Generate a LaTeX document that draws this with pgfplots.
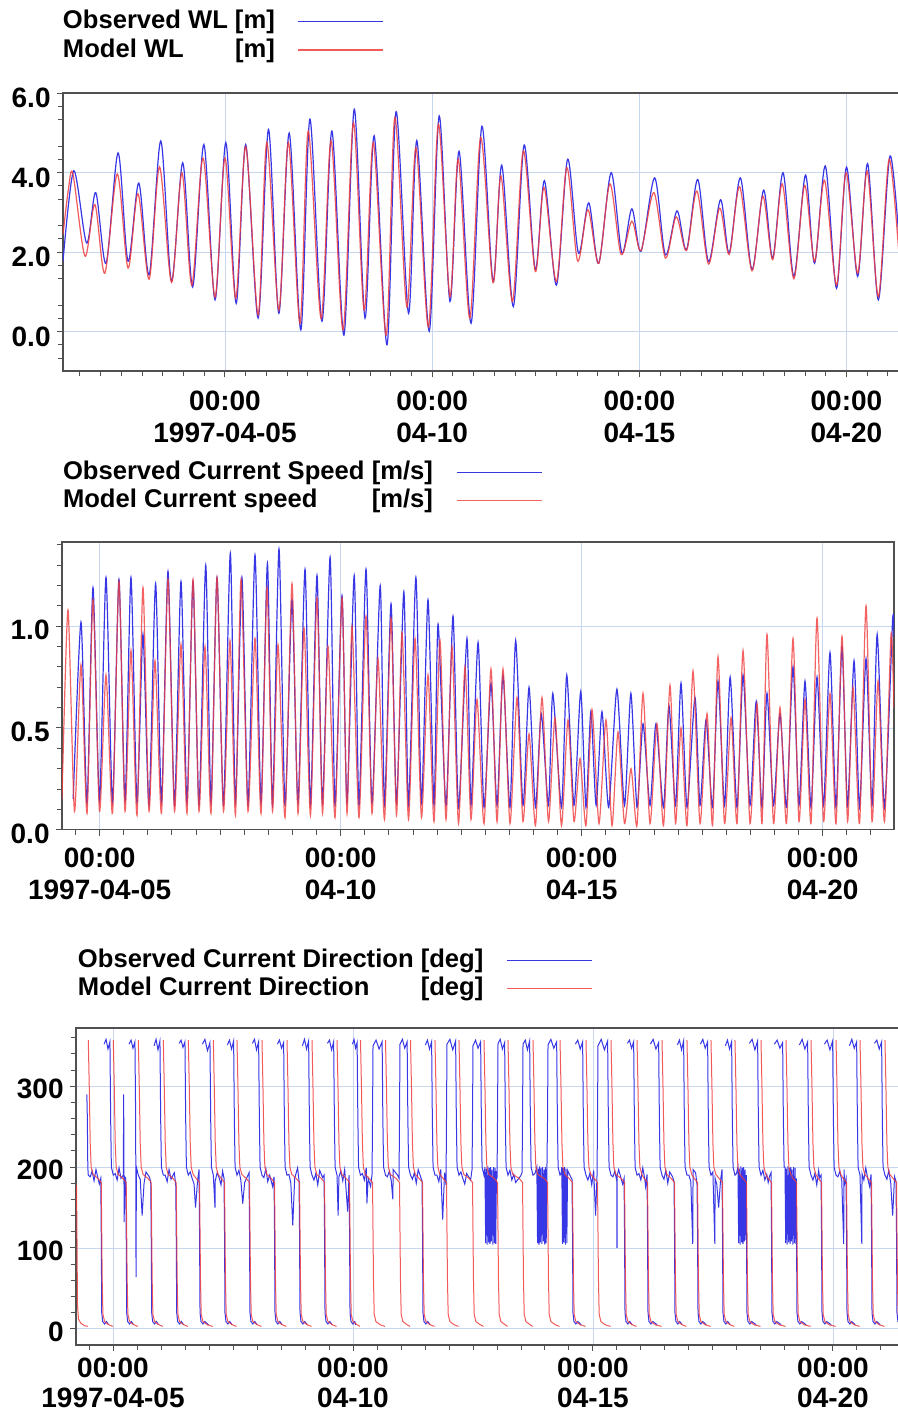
\documentclass[border=0pt]{standalone}
\usepackage{fontspec}
\setmainfont{Liberation Sans}
\usepackage{pgfplots}
\pgfplotsset{compat=1.18}
\definecolor{obsblue}{RGB}{55,55,230}
\definecolor{modred}{RGB}{240,60,60}
\definecolor{gridc}{RGB}{200,215,240}
\definecolor{framec}{RGB}{80,80,80}
\pgfplotsset{legend image code/.code={\draw[#1] (0pt,0pt) -- (42.5pt,0pt);}}
\pgfplotsset{
  mystyle/.style={
    scale only axis,
    anchor=south west,
    axis line style={framec, line width=0.8pt},
    tick style={framec, line width=0.5pt},
    tick align=outside,
    tick pos=left,
    major tick length=3pt,
    minor tick length=2.5pt,
    grid=major,
    major grid style={gridc, line width=0.4pt},
    ticklabel style={font=\fontsize{14}{16}\selectfont\bfseries},
    yticklabel style={inner sep=3pt},
    xticklabel style={align=center},
    xtick={5,10,15,20},
    xticklabels={{00:00\\1997-04-05},{00:00\\04-10},{00:00\\04-15},{00:00\\04-20}},
    legend plot pos=right,
    legend cell align=left,
    legend style={draw=none, fill=none, inner sep=0pt, outer sep=0pt,
      font=\fontsize{12.8}{14}\selectfont\bfseries, row sep=1.25pt, column sep=11.5pt,
      nodes={inner sep=0pt, text height=10pt, text depth=3pt}, anchor=north west},
  }
}
\begin{document}
\begin{tikzpicture}
\path[use as bounding box] (0,0) rectangle (449pt,707pt);
% ---------------- Panel 1: water level ----------------
\begin{axis}[mystyle, at={(31.5pt,521.35pt)}, width=418.5pt, height=139pt,
  xmin=1.09, xmax=21.292, ymin=-1.0, ymax=6.0,
  ytick={0,2,4,6}, yticklabels={0.0,2.0,4.0,6.0},
  xticklabel style={yshift=-3.5pt}, yticklabel style={yshift=-2.5pt},
  minor ytick={-0.6667,-0.3333,0.3333,0.6667,1.3333,1.6667,2.3333,2.6667,3.3333,3.6667,4.3333,4.6667,5.3333,5.6667},
  minor xtick={1.5,2,...,21},
  legend style={at={(0,1.3047)}}]
\addplot[obsblue, line width=0.6pt, smooth] coordinates {
(1.09,1.77)(1.35,4.05)(1.66,2.23)(1.88,3.50)(2.13,1.72)(2.42,4.50)(2.66,1.77)(2.92,3.74)(3.17,1.43)(3.45,4.80)(3.71,1.27)(3.98,4.25)(4.22,1.12)(4.49,4.71)(4.76,0.80)(5.02,4.76)(5.27,0.71)(5.50,4.71)(5.80,0.34)(6.05,5.09)(6.30,0.46)(6.55,5.00)(6.83,0.04)(7.05,5.35)(7.34,0.26)(7.58,5.05)(7.87,-0.09)(8.12,5.60)(8.38,0.34)(8.60,4.93)(8.91,-0.33)(9.13,5.54)(9.43,0.46)(9.63,4.81)(9.93,0.01)(10.17,5.43)(10.43,0.76)(10.65,4.54)(10.94,0.21)(11.20,5.17)(11.47,1.26)(11.68,4.19)(11.96,0.63)(12.22,4.70)(12.49,1.56)(12.71,3.80)(13.00,1.17)(13.27,4.34)(13.53,1.98)(13.78,3.24)(14.02,1.72)(14.32,4.00)(14.58,1.98)(14.82,3.09)(15.04,2.02)(15.37,3.87)(15.63,1.93)(15.91,3.04)(16.14,2.06)(16.41,3.83)(16.67,1.76)(16.96,3.32)(17.17,1.98)(17.44,3.87)(17.72,1.56)(18.00,3.56)(18.22,1.85)(18.47,4.00)(18.73,1.39)(19.01,3.94)(19.23,1.72)(19.49,4.17)(19.76,1.09)(20.00,4.14)(20.27,1.39)(20.51,4.23)(20.77,0.80)(21.05,4.42)(21.29,2.0)};
\addlegendentry{\makebox[86pt][l]{Observed WL}[m]}
\addplot[modred, line width=0.6pt, opacity=0.85, smooth] coordinates {
(1.09,2.44)(1.22,3.58)(1.33,3.97)(1.62,1.90)(1.86,3.20)(2.10,1.47)(2.40,3.97)(2.66,1.60)(2.90,3.47)(3.17,1.32)(3.42,4.15)(3.71,1.24)(3.96,4.00)(4.20,1.17)(4.47,4.37)(4.76,0.87)(5.00,4.37)(5.26,0.84)(5.50,4.66)(5.80,0.42)(6.01,4.76)(6.30,0.54)(6.53,4.76)(6.81,0.21)(7.01,5.05)(7.32,0.33)(7.56,4.81)(7.85,0.04)(8.10,5.26)(8.36,0.54)(8.58,4.76)(8.89,-0.09)(9.10,5.39)(9.39,0.62)(9.61,4.63)(9.91,0.12)(10.15,5.22)(10.43,0.88)(10.63,4.34)(10.91,0.34)(11.17,4.89)(11.47,1.23)(11.66,3.92)(11.94,0.76)(12.20,4.55)(12.49,1.51)(12.70,3.63)(13.00,1.26)(13.25,4.13)(13.51,1.78)(13.76,3.07)(14.02,1.72)(14.29,3.72)(14.56,1.94)(14.82,2.78)(15.04,2.04)(15.35,3.50)(15.63,1.85)(15.89,2.89)(16.14,2.04)(16.39,3.54)(16.67,1.70)(16.94,3.11)(17.17,1.94)(17.42,3.65)(17.72,1.53)(17.98,3.41)(18.22,1.81)(18.45,3.72)(18.73,1.33)(18.99,3.68)(19.23,1.77)(19.47,3.81)(19.76,1.17)(19.99,4.00)(20.27,1.47)(20.50,4.04)(20.77,0.88)(21.03,4.34)(21.29,1.60)};
\addlegendentry{\makebox[86pt][l]{Model WL}[m]}
\end{axis}
% ---------------- Panel 2: current speed ----------------
\begin{axis}[mystyle, at={(31pt,292.15pt)}, width=416pt, height=143.85pt,
  xmin=4.218, xmax=21.479, ymin=0, ymax=1.414,
  ytick={0,0.5,1}, yticklabels={0.0,0.5,1.0},
  xticklabel style={yshift=-2.5pt}, yticklabel style={yshift=-2pt},
  minor ytick={0.1,0.2,0.3,0.4,0.6,0.7,0.8,0.9,1.1,1.2,1.3,1.4},
  minor xtick={4.5,5,...,21.5},
  legend style={at={(0.0012,1.2878)}}]
\addplot[obsblue, line width=0.6pt, smooth, tension=0.4] coordinates {
(4.450,0.15)(4.612,1.02)(4.737,0.13)(4.861,1.19)(4.996,0.14)(5.131,1.24)(5.266,0.13)(5.400,1.23)(5.525,0.14)(5.649,1.24)(5.774,0.13)(5.898,0.96)(6.023,0.12)(6.160,1.21)(6.282,0.13)(6.417,1.27)(6.552,0.12)(6.687,1.22)(6.811,0.13)(6.936,1.22)(7.060,0.12)(7.200,1.30)(7.309,0.13)(7.434,1.24)(7.568,0.12)(7.710,1.36)(7.817,0.13)(7.950,1.24)(8.077,0.12)(8.222,1.35)(8.347,0.13)(8.480,1.31)(8.585,0.12)(8.720,1.38)(8.845,0.12)(8.990,1.13)(9.114,0.13)(9.260,1.28)(9.373,0.12)(9.508,1.25)(9.622,0.13)(9.780,1.34)(9.882,0.12)(10.027,1.15)(10.131,0.13)(10.280,1.25)(10.380,0.12)(10.525,1.28)(10.649,0.13)(10.820,1.20)(10.909,0.12)(11.044,1.11)(11.158,0.13)(11.310,1.17)(11.407,0.12)(11.560,1.24)(11.676,0.13)(11.811,1.13)(11.936,0.12)(12.020,1.01)(12.185,0.12)(12.330,1.05)(12.444,0.11)(12.620,0.94)(12.703,0.12)(12.850,0.92)(12.973,0.11)(13.118,0.72)(13.243,0.12)(13.367,0.76)(13.512,0.11)(13.630,0.93)(13.782,0.12)(13.907,0.70)(14.041,0.11)(14.160,0.57)(14.311,0.12)(14.400,0.67)(14.581,0.11)(14.690,0.76)(14.840,0.12)(14.980,0.68)(15.089,0.11)(15.190,0.58)(15.300,0.12)(15.420,0.58)(15.560,0.11)(15.730,0.69)(15.888,0.12)(16.020,0.67)(16.147,0.11)(16.272,0.52)(16.417,0.12)(16.540,0.52)(16.697,0.11)(16.810,0.61)(16.946,0.12)(17.060,0.72)(17.185,0.11)(17.350,0.65)(17.454,0.12)(17.580,0.54)(17.714,0.11)(17.828,0.73)(17.963,0.12)(18.080,0.75)(18.222,0.11)(18.347,0.76)(18.492,0.12)(18.620,0.63)(18.741,0.11)(18.844,0.67)(18.979,0.12)(19.114,0.57)(19.249,0.11)(19.384,0.80)(19.508,0.12)(19.633,0.73)(19.757,0.11)(19.882,0.75)(20.017,0.12)(20.151,0.87)(20.276,0.11)(20.400,0.90)(20.515,0.12)(20.650,0.83)(20.764,0.11)(20.899,0.84)(21.023,0.12)(21.130,0.96)(21.282,0.11)(21.450,1.03)(21.479,0.95)};
\addlegendentry{\makebox[154.4pt][l]{Observed Current Speed}[m/s]}
\addplot[modred, line width=0.6pt, opacity=0.8, smooth, tension=0.4] coordinates {
(4.218,0.15)(4.342,1.08)(4.477,0.09)(4.612,0.81)(4.737,0.08)(4.861,1.13)(4.996,0.09)(5.131,0.76)(5.266,0.08)(5.400,1.22)(5.525,0.09)(5.649,0.88)(5.774,0.07)(5.898,1.19)(6.023,0.09)(6.147,0.83)(6.282,0.08)(6.417,1.23)(6.552,0.09)(6.687,0.91)(6.811,0.08)(6.936,1.23)(7.060,0.09)(7.185,0.90)(7.309,0.08)(7.434,1.24)(7.568,0.09)(7.703,0.93)(7.817,0.07)(7.932,1.23)(8.077,0.09)(8.222,0.94)(8.347,0.08)(8.471,1.19)(8.585,0.09)(8.699,0.91)(8.845,0.06)(8.990,1.21)(9.114,0.08)(9.239,0.99)(9.373,0.07)(9.508,1.14)(9.622,0.08)(9.737,0.90)(9.882,0.06)(10.027,1.14)(10.131,0.08)(10.234,1.00)(10.380,0.06)(10.525,1.05)(10.649,0.08)(10.774,0.84)(10.909,0.05)(11.044,1.04)(11.158,0.07)(11.272,0.97)(11.407,0.05)(11.542,0.94)(11.676,0.06)(11.811,0.76)(11.936,0.04)(12.060,0.93)(12.185,0.05)(12.309,0.90)(12.444,0.03)(12.579,0.80)(12.703,0.05)(12.828,0.64)(12.973,0.03)(13.118,0.79)(13.243,0.04)(13.367,0.79)(13.512,0.03)(13.658,0.65)(13.782,0.04)(13.907,0.47)(14.041,0.02)(14.176,0.65)(14.311,0.04)(14.446,0.55)(14.581,0.02)(14.716,0.54)(14.840,0.04)(14.965,0.35)(15.089,0.02)(15.214,0.59)(15.359,0.03)(15.504,0.54)(15.629,0.02)(15.753,0.48)(15.888,0.03)(16.023,0.30)(16.147,0.02)(16.272,0.67)(16.417,0.03)(16.562,0.52)(16.697,0.02)(16.832,0.71)(16.946,0.03)(17.060,0.50)(17.185,0.02)(17.309,0.78)(17.454,0.03)(17.600,0.57)(17.714,0.02)(17.828,0.85)(17.963,0.03)(18.098,0.55)(18.222,0.03)(18.347,0.88)(18.492,0.03)(18.637,0.62)(18.741,0.03)(18.844,0.96)(18.979,0.03)(19.114,0.60)(19.249,0.03)(19.384,0.94)(19.508,0.04)(19.633,0.64)(19.757,0.03)(19.882,1.04)(20.017,0.04)(20.151,0.67)(20.276,0.03)(20.400,0.95)(20.515,0.04)(20.629,0.70)(20.764,0.03)(20.899,1.10)(21.023,0.04)(21.148,0.73)(21.282,0.04)(21.417,0.96)(21.479,0.60)};
\addlegendentry{\makebox[154.4pt][l]{Model Current speed}[m/s]}
\end{axis}
% ---------------- Panel 3: current direction ----------------
\begin{axis}[mystyle, at={(38pt,34.5pt)}, width=412pt, height=158.5pt,
  xmin=4.229, xmax=21.396, ymin=-20, ymax=372,
  ytick={0,100,200,300}, yticklabels={0,100,200,300},
  xticklabel style={font=\fontsize{14}{15}\selectfont\bfseries}, yticklabel style={yshift=-1.5pt},
  minor ytick={20,40,60,80,120,140,160,180,220,240,260,280,320,340,360},
  minor xtick={4.5,5,...,21},
  unbounded coords=jump,
  legend style={at={(0.0024,1.2549)}}]
\addplot[obsblue, line width=0.5pt] coordinates {
(4.455,290)(4.465,262)(4.475,200)(4.485,190)(4.525,188)(4.565,195)(4.605,183)(4.645,197)(4.715,179)(4.745,186)(4.755,120)(4.765,20)(4.785,9)(4.825,6)(4.865,9)(4.906,5)(4.91,nan)
(4.815,352)(4.855,358)(4.895,346)(4.936,355)(4.951,260)(4.966,200)(5.006,190)(5.046,192)(5.086,184)(5.126,199)(5.166,186)(5.215,190)(5.222,290)(5.232,132)(5.245,188)(5.265,186)(5.275,120)(5.285,20)(5.305,9)(5.345,6)(5.385,9)(5.427,5)(5.43,nan)
(5.335,352)(5.376,357)(5.416,347)(5.457,355)(5.472,260)(5.480,64)(5.487,200)(5.527,190)(5.567,185)(5.607,140)(5.647,180)(5.687,194)(5.756,188)(5.786,182)(5.796,120)(5.806,20)(5.826,9)(5.866,6)(5.906,9)(5.948,5)(5.95,nan)
(5.856,350)(5.897,358)(5.937,345)(5.978,356)(5.993,260)(6.008,200)(6.048,190)(6.088,190)(6.128,182)(6.168,197)(6.208,185)(6.277,193)(6.307,178)(6.317,120)(6.327,20)(6.347,9)(6.387,6)(6.427,9)(6.469,5)(6.47,nan)
(6.377,353)(6.418,357)(6.458,348)(6.499,355)(6.514,260)(6.529,200)(6.569,190)(6.609,194)(6.649,186)(6.689,179)(6.719,150)(6.763,184)(6.793,197)(6.803,120)(6.813,20)(6.833,9)(6.873,6)(6.913,9)(6.990,5)(6.995,nan)
(6.863,352)(6.915,358)(6.968,344)(7.020,354)(7.035,260)(7.050,200)(7.090,190)(7.125,150)(7.130,183)(7.170,193)(7.210,187)(7.250,178)(7.283,195)(7.313,186)(7.323,120)(7.333,20)(7.353,9)(7.393,6)(7.433,9)(7.483,5)(7.49,nan)
(7.383,351)(7.426,357)(7.470,346)(7.513,356)(7.528,260)(7.543,200)(7.583,190)(7.623,196)(7.663,184)(7.703,155)(7.743,181)(7.804,189)(7.834,193)(7.844,120)(7.854,20)(7.874,9)(7.914,6)(7.954,9)(8.004,5)(8.01,nan)
(7.904,353)(7.947,358)(7.991,345)(8.034,355)(8.049,260)(8.064,200)(8.104,190)(8.144,187)(8.184,198)(8.224,182)(8.264,190)(8.325,176)(8.355,188)(8.365,120)(8.375,20)(8.395,9)(8.435,6)(8.475,9)(8.525,5)(8.53,nan)
(8.425,352)(8.468,357)(8.512,347)(8.555,354)(8.570,260)(8.585,200)(8.625,190)(8.665,191)(8.705,180)(8.745,128)(8.785,186)(8.846,199)(8.876,183)(8.886,120)(8.896,20)(8.916,9)(8.956,6)(8.996,9)(9.046,5)(9.05,nan)
(8.946,350)(8.989,358)(9.033,346)(9.076,356)(9.091,260)(9.106,200)(9.146,190)(9.186,184)(9.226,192)(9.266,178)(9.306,196)(9.367,187)(9.397,190)(9.407,120)(9.417,20)(9.437,9)(9.477,6)(9.517,9)(9.567,5)(9.57,nan)
(9.467,353)(9.510,357)(9.554,345)(9.597,355)(9.612,260)(9.627,200)(9.667,190)(9.690,140)(9.707,188)(9.747,195)(9.787,183)(9.827,197)(9.888,145)(9.918,190)(9.928,120)(9.938,20)(9.958,9)(9.998,6)(10.038,9)(10.056,5)(10.06,nan)
(9.988,352)(10.021,358)(10.053,347)(10.086,354)(10.101,260)(10.116,200)(10.156,190)(10.196,192)(10.236,184)(10.276,199)(10.290,155)(10.316,186)(10.367,176)(10.397,191)(10.407,260)
(10.417,350)(10.480,357)(10.544,346)(10.607,355)(10.622,260)(10.637,200)(10.677,190)(10.717,188)(10.757,195)(10.797,183)(10.830,160)(10.837,197)(10.929,190)(10.959,186)(10.969,260)
(10.979,352)(11.029,358)(11.078,347)(11.128,355)(11.143,260)(11.158,200)(11.198,190)(11.238,185)(11.278,193)(11.318,180)(11.358,197)(11.408,188)(11.438,183)(11.448,120)(11.458,20)(11.478,9)(11.518,6)(11.558,9)(11.608,5)(11.61,nan)
(11.508,351)(11.551,357)(11.595,346)(11.638,355)(11.653,260)(11.668,200)(11.708,190)(11.748,190)(11.788,182)(11.828,197)(11.868,135)(11.908,193)(11.938,178)(11.948,260)
(11.958,352)(12.018,358)(12.078,345)(12.138,356)(12.153,260)(12.168,200)(12.208,190)(12.248,194)(12.288,186)(12.328,179)(12.368,192)(12.450,184)(12.480,197)(12.490,260)
(12.500,350)(12.553,357)(12.606,347)(12.659,355)(12.674,260)(12.689,200)(12.729,190)(12.749,200)(12.764,106)(12.779,198)(12.794,104)(12.809,201)(12.824,107)(12.839,199)(12.854,105)(12.869,200)(12.884,108)(12.899,197)(12.914,104)(12.929,200)(12.944,106)(12.959,199)(12.974,105)(12.989,195)(13.001,186)(13.011,260)
(13.021,353)(13.067,358)(13.113,346)(13.159,354)(13.174,260)(13.189,200)(13.229,190)(13.269,196)(13.309,184)(13.349,191)(13.389,181)(13.492,189)(13.522,193)(13.532,260)
(13.542,352)(13.588,357)(13.634,345)(13.680,356)(13.695,260)(13.710,200)(13.750,190)(13.790,192)(13.830,200)(13.845,106)(13.860,198)(13.875,104)(13.890,201)(13.905,107)(13.920,199)(13.935,105)(13.950,200)(13.965,108)(13.980,197)(13.995,104)(14.010,200)(14.025,106)(14.040,196)(14.053,260)
(14.063,351)(14.123,358)(14.183,347)(14.243,355)(14.258,260)(14.273,200)(14.313,190)(14.335,192)(14.350,200)(14.365,105)(14.380,199)(14.395,107)(14.410,200)(14.425,104)(14.440,198)(14.455,106)(14.470,196)(14.533,188)(14.563,185)(14.573,120)(14.583,20)(14.603,9)(14.643,6)(14.683,9)(14.754,5)(14.76,nan)
(14.633,352)(14.683,357)(14.734,346)(14.784,355)(14.799,260)(14.814,200)(14.854,190)(14.894,184)(14.934,192)(14.974,178)(15.014,196)(15.054,140)(15.084,190)(15.094,260)
(15.104,350)(15.171,358)(15.238,345)(15.305,356)(15.320,260)(15.335,200)(15.375,190)(15.415,188)(15.455,195)(15.495,183)(15.500,100)(15.505,190)(15.535,197)(15.617,179)(15.647,186)(15.657,120)(15.667,20)(15.687,9)(15.727,6)(15.767,9)(15.817,5)(15.82,nan)
(15.717,353)(15.760,357)(15.804,347)(15.847,355)(15.862,260)(15.877,200)(15.917,190)(15.957,192)(15.997,184)(16.037,199)(16.077,186)(16.096,176)(16.126,191)(16.136,120)(16.146,20)(16.166,9)(16.206,6)(16.246,9)(16.338,5)(16.34,nan)
(16.196,352)(16.253,358)(16.311,346)(16.368,354)(16.383,260)(16.398,200)(16.438,190)(16.478,185)(16.518,196)(16.558,180)(16.598,194)(16.658,188)(16.688,182)(16.698,120)(16.708,20)(16.728,9)(16.768,6)(16.808,9)(16.858,5)(16.86,nan)
(16.758,351)(16.801,357)(16.845,345)(16.888,356)(16.903,260)(16.918,200)(16.958,190)(16.998,190)(17.038,182)(17.078,105)(17.085,197)(17.138,193)(17.168,178)(17.178,120)(17.188,20)(17.208,9)(17.248,6)(17.288,9)(17.358,5)(17.36,nan)
(17.238,352)(17.288,358)(17.338,347)(17.388,355)(17.403,260)(17.418,200)(17.458,190)(17.498,194)(17.538,105)(17.545,186)(17.578,179)(17.618,150)(17.658,184)(17.688,197)(17.698,120)(17.708,20)(17.728,9)(17.768,6)(17.808,9)(17.858,5)(17.86,nan)
(17.758,350)(17.801,357)(17.845,346)(17.888,355)(17.903,260)(17.918,200)(17.958,190)(17.990,192)(18.020,200)(18.035,106)(18.050,198)(18.065,104)(18.080,201)(18.095,107)(18.110,199)(18.125,105)(18.140,200)(18.155,108)(18.170,197)(18.185,110)(18.195,190)(18.198,120)(18.208,20)(18.228,9)(18.268,6)(18.308,9)(18.400,5)(18.40,nan)
(18.258,353)(18.315,358)(18.373,345)(18.430,356)(18.445,260)(18.460,200)(18.500,190)(18.540,196)(18.580,184)(18.620,191)(18.650,181)(18.679,189)(18.709,193)(18.719,120)(18.729,20)(18.749,9)(18.789,6)(18.829,9)(18.921,5)(18.925,nan)
(18.779,352)(18.836,357)(18.894,347)(18.951,354)(18.966,260)(18.981,200)(19.000,200)(19.015,106)(19.030,198)(19.045,104)(19.060,201)(19.075,107)(19.090,199)(19.105,105)(19.120,200)(19.135,108)(19.150,197)(19.165,104)(19.180,200)(19.195,106)(19.210,199)(19.225,105)(19.235,186)(19.240,120)(19.250,20)(19.270,9)(19.310,6)(19.350,9)(19.442,5)(19.445,nan)
(19.300,351)(19.357,358)(19.415,346)(19.472,355)(19.487,260)(19.502,200)(19.542,190)(19.582,184)(19.622,192)(19.662,178)(19.702,196)(19.721,187)(19.751,190)(19.761,120)(19.771,20)(19.791,9)(19.831,6)(19.871,9)(19.963,5)(19.965,nan)
(19.821,352)(19.878,357)(19.936,345)(19.993,356)(20.008,260)(20.023,200)(20.063,190)(20.103,188)(20.143,195)(20.183,183)(20.223,105)(20.230,197)(20.242,179)(20.272,186)(20.282,120)(20.292,20)(20.312,9)(20.352,6)(20.392,9)(20.463,5)(20.465,nan)
(20.342,350)(20.392,358)(20.443,347)(20.493,355)(20.508,260)(20.523,200)(20.563,190)(20.600,105)(20.605,192)(20.643,184)(20.683,199)(20.723,186)(20.763,176)(20.793,191)(20.803,120)(20.813,20)(20.833,9)(20.873,6)(20.913,9)(20.983,5)(20.985,nan)
(20.863,353)(20.913,357)(20.963,346)(21.013,355)(21.028,260)(21.043,200)(21.083,190)(21.123,185)(21.163,196)(21.203,180)(21.243,140)(21.283,188)(21.313,182)(21.323,120)(21.333,20)(21.353,9)(21.393,6)(21.45,8)(21.45,nan)
(21.383,352)(21.45,356)};
\addlegendentry{\makebox[171.4pt][l]{Observed Current Direction}[deg]}
\addplot[modred, line width=0.5pt, opacity=0.85] coordinates {
(4.229,178)(4.240,176)(4.250,110)(4.260,30)(4.280,12)(4.330,7)(4.400,4)(4.475,3)(4.48,nan)
(4.485,357)(4.505,300)(4.525,230)(4.545,200)(4.585,191)(4.685,186)(4.755,181)(4.775,60)(4.790,18)(4.825,9)(4.915,5)(4.996,3)(5.0,nan)
(5.006,357)(5.026,300)(5.046,230)(5.066,200)(5.106,191)(5.205,186)(5.275,181)(5.295,60)(5.310,18)(5.345,9)(5.435,5)(5.517,3)(5.52,nan)
(5.527,357)(5.547,300)(5.567,230)(5.587,200)(5.627,191)(5.726,186)(5.796,181)(5.816,60)(5.831,18)(5.866,9)(5.956,5)(6.038,3)(6.04,nan)
(6.048,357)(6.068,300)(6.088,230)(6.108,200)(6.148,191)(6.247,186)(6.317,181)(6.337,60)(6.352,18)(6.387,9)(6.477,5)(6.559,3)(6.56,nan)
(6.569,357)(6.589,300)(6.609,230)(6.629,200)(6.669,191)(6.733,186)(6.803,181)(6.823,60)(6.838,18)(6.873,9)(6.963,5)(7.080,3)(7.085,nan)
(7.090,357)(7.110,300)(7.130,230)(7.150,200)(7.190,191)(7.253,186)(7.323,181)(7.343,60)(7.358,18)(7.393,9)(7.483,5)(7.573,3)(7.578,nan)
(7.583,357)(7.603,300)(7.623,230)(7.643,200)(7.683,191)(7.774,186)(7.844,181)(7.864,60)(7.879,18)(7.914,9)(8.004,5)(8.094,3)(8.1,nan)
(8.104,357)(8.124,300)(8.144,230)(8.164,200)(8.204,191)(8.295,186)(8.365,181)(8.385,60)(8.400,18)(8.435,9)(8.525,5)(8.615,3)(8.62,nan)
(8.625,357)(8.645,300)(8.665,230)(8.685,200)(8.725,191)(8.816,186)(8.886,181)(8.906,60)(8.921,18)(8.956,9)(9.046,5)(9.136,3)(9.14,nan)
(9.146,357)(9.166,300)(9.186,230)(9.206,200)(9.246,191)(9.337,186)(9.407,181)(9.427,60)(9.442,18)(9.477,9)(9.567,5)(9.657,3)(9.66,nan)
(9.667,357)(9.687,300)(9.707,230)(9.727,200)(9.767,191)(9.858,186)(9.928,181)(9.948,60)(9.963,18)(9.998,9)(10.088,5)(10.146,3)(10.15,nan)
(10.156,357)(10.176,300)(10.196,230)(10.216,200)(10.256,191)(10.337,186)(10.407,181)(10.427,60)(10.442,18)(10.477,9)(10.567,5)(10.667,3)(10.67,nan)
(10.677,357)(10.697,300)(10.717,230)(10.737,200)(10.777,191)(10.899,186)(10.969,181)(10.989,60)(11.004,18)(11.039,9)(11.129,5)(11.188,3)(11.19,nan)
(11.198,357)(11.218,300)(11.238,230)(11.258,200)(11.298,191)(11.378,186)(11.448,181)(11.468,60)(11.483,18)(11.518,9)(11.608,5)(11.698,3)(11.70,nan)
(11.708,357)(11.728,300)(11.748,230)(11.768,200)(11.808,191)(11.878,186)(11.948,181)(11.968,60)(11.983,18)(12.018,9)(12.108,5)(12.198,3)(12.20,nan)
(12.208,357)(12.228,300)(12.248,230)(12.268,200)(12.308,191)(12.420,186)(12.490,181)(12.510,60)(12.525,18)(12.560,9)(12.650,5)(12.719,3)(12.72,nan)
(12.729,357)(12.749,300)(12.769,230)(12.789,200)(12.829,191)(12.941,186)(13.011,181)(13.031,60)(13.046,18)(13.081,9)(13.171,5)(13.219,3)(13.22,nan)
(13.229,357)(13.249,300)(13.269,230)(13.289,200)(13.329,191)(13.462,186)(13.532,181)(13.552,60)(13.567,18)(13.602,9)(13.692,5)(13.740,3)(13.745,nan)
(13.750,357)(13.770,300)(13.790,230)(13.810,200)(13.850,191)(13.983,186)(14.053,181)(14.073,60)(14.088,18)(14.123,9)(14.213,5)(14.303,3)(14.31,nan)
(14.313,357)(14.333,300)(14.353,230)(14.373,200)(14.413,191)(14.503,186)(14.573,181)(14.593,60)(14.608,18)(14.643,9)(14.733,5)(14.844,3)(14.85,nan)
(14.854,357)(14.874,300)(14.894,230)(14.914,200)(14.954,191)(15.024,186)(15.094,181)(15.114,60)(15.129,18)(15.164,9)(15.254,5)(15.365,3)(15.37,nan)
(15.375,357)(15.395,300)(15.415,230)(15.435,200)(15.475,191)(15.587,186)(15.657,181)(15.677,60)(15.692,18)(15.727,9)(15.817,5)(15.907,3)(15.91,nan)
(15.917,357)(15.937,300)(15.957,230)(15.977,200)(16.017,191)(16.066,186)(16.136,181)(16.156,60)(16.171,18)(16.206,9)(16.296,5)(16.428,3)(16.43,nan)
(16.438,357)(16.458,300)(16.478,230)(16.498,200)(16.538,191)(16.628,186)(16.698,181)(16.718,60)(16.733,18)(16.768,9)(16.858,5)(16.948,3)(16.95,nan)
(16.958,357)(16.978,300)(16.998,230)(17.018,200)(17.058,191)(17.108,186)(17.178,181)(17.198,60)(17.213,18)(17.248,9)(17.338,5)(17.448,3)(17.45,nan)
(17.458,357)(17.478,300)(17.498,230)(17.518,200)(17.558,191)(17.628,186)(17.698,181)(17.718,60)(17.733,18)(17.768,9)(17.858,5)(17.948,3)(17.95,nan)
(17.958,357)(17.978,300)(17.998,230)(18.018,200)(18.058,191)(18.128,186)(18.198,181)(18.218,60)(18.233,18)(18.268,9)(18.358,5)(18.490,3)(18.495,nan)
(18.500,357)(18.520,300)(18.540,230)(18.560,200)(18.600,191)(18.649,186)(18.719,181)(18.739,60)(18.754,18)(18.789,9)(18.879,5)(19.011,3)(19.015,nan)
(19.021,357)(19.041,300)(19.061,230)(19.081,200)(19.121,191)(19.170,186)(19.240,181)(19.260,60)(19.275,18)(19.310,9)(19.400,5)(19.532,3)(19.535,nan)
(19.542,357)(19.562,300)(19.582,230)(19.602,200)(19.642,191)(19.691,186)(19.761,181)(19.781,60)(19.796,18)(19.831,9)(19.921,5)(20.053,3)(20.055,nan)
(20.063,357)(20.083,300)(20.103,230)(20.123,200)(20.163,191)(20.212,186)(20.282,181)(20.302,60)(20.317,18)(20.352,9)(20.442,5)(20.553,3)(20.555,nan)
(20.563,357)(20.583,300)(20.603,230)(20.623,200)(20.663,191)(20.733,186)(20.803,181)(20.823,60)(20.838,18)(20.873,9)(20.963,5)(21.073,3)(21.075,nan)
(21.083,357)(21.103,300)(21.123,230)(21.143,200)(21.183,191)(21.253,186)(21.323,181)(21.343,60)(21.358,18)(21.393,9)(21.45,6)};
\addlegendentry{\makebox[171.4pt][l]{Model Current Direction}[deg]}
\end{axis}
\end{tikzpicture}
\end{document}
